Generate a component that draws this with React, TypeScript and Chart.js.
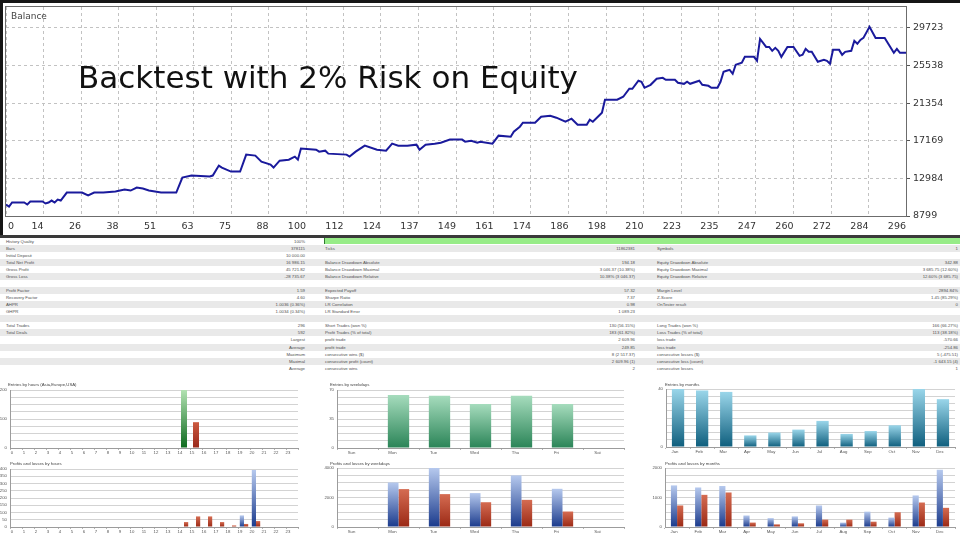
import React, { useEffect, useRef } from "react";
import { Chart, registerables } from "chart.js";

Chart.register(...registerables);

// ---------------- DATA ----------------
// Balance curve: trade number and balance at the points where the curve turns
const balanceTrade = [
  0, 1, 2, 6, 7, 8, 12, 13, 14, 15,
  16, 17, 18, 20, 25, 27, 29, 32, 36, 39,
  41, 43, 45, 47, 51, 56, 58, 61, 67, 68,
  70, 71, 74, 77, 79, 82, 84, 87, 88, 90,
  93, 95, 96, 97, 102, 103, 105, 106, 112, 113,
  115, 118, 122, 125, 127, 129, 132, 135, 136, 138,
  141, 143, 146, 150, 151, 153, 155, 156, 160, 162,
  166, 167, 169, 170, 174, 176, 179, 181, 184, 186,
  188, 191, 192, 193, 195, 196, 197, 201, 203, 205,
  206, 208, 209, 210, 212, 214, 216, 217, 220, 221,
  223, 224, 225, 228, 229, 231, 232, 234, 235, 236,
  237, 238, 239, 240, 242, 243, 246, 247, 248, 249,
  250, 251, 252, 253, 254, 255, 257, 259, 261, 262,
  263, 264, 265, 267, 269, 270, 271, 272, 274, 275,
  276, 278, 279, 280, 281, 282, 284, 286, 289, 292,
  293, 294, 296,
];
const balanceValue = [
  10080, 9850, 10300, 10300, 10080, 10410, 10410, 10190, 10300, 10520,
  10300, 10630, 10520, 11410, 11410, 11080, 11410, 11410, 11520, 11740,
  11630, 11960, 11850, 11630, 11410, 11410, 13080, 13300, 13190, 13300,
  14410, 14190, 13740, 13740, 15630, 15520, 14850, 14520, 14190, 14960,
  15070, 15410, 15070, 16300, 16180, 15960, 16070, 15740, 15630, 15410,
  15960, 16630, 16180, 16070, 16850, 16630, 16630, 16740, 16180, 16740,
  16850, 16960, 17300, 17300, 17070, 17180, 16960, 17070, 16850, 17740,
  17630, 18180, 18740, 19180, 19180, 19850, 19960, 19740, 19290, 19630,
  18960, 18960, 19520, 19290, 19960, 20290, 21740, 21740, 22070, 22960,
  22960, 23850, 23740, 23070, 23400, 24070, 24180, 23960, 23960, 23630,
  23510, 23740, 23510, 23850, 23400, 23290, 23070, 23070, 23740, 24850,
  24960, 25070, 24630, 25630, 25850, 26510, 26510, 26070, 28510, 28070,
  27620, 27620, 27180, 27510, 27180, 26510, 27620, 27620, 26620, 26740,
  27400, 27070, 27070, 25960, 26180, 26070, 25740, 27290, 27290, 26740,
  27070, 27180, 28290, 27960, 28400, 28620, 29850, 28620, 28620, 26960,
  27400, 26960, 26960,
];
const tradeTickLabels = [
  "0", "14", "26", "38", "51", "63", "75", "88", "100", "112", "124", "137", "149",
  "161", "174", "186", "198", "210", "223", "235", "247", "260", "272", "284", "296",
];
const tradeMax = 296;
const balanceTicks = [8799, 12984, 17169, 21354, 25538, 29723];
const balanceMin = 8799;
const balanceMax = 32060;

const hourLabels = [
  "0", "1", "2", "3", "4", "5", "6", "7", "8", "9", "10", "11",
  "12", "13", "14", "15", "16", "17", "18", "19", "20", "21", "22", "23",
];
const entriesHourGreen = [0, 0, 0, 0, 0, 0, 0, 0, 0, 0, 0, 0, 0, 0, 200, 0, 0, 0, 0, 0, 0, 0, 0, 0];
const entriesHourRed = [0, 0, 0, 0, 0, 0, 0, 0, 0, 0, 0, 0, 0, 0, 0, 89, 0, 0, 0, 0, 0, 0, 0, 0];
const profitByHour = [0, 0, 0, 0, 0, 0, 0, 0, 0, 0, 0, 0, 0, 0, 0, 0, 0, 0, 0, 80, 393, 0, 0, 0];
const lossByHour = [0, 0, 0, 0, 0, 0, 0, 0, 0, 0, 0, 0, 0, 0, 34, 73, 73, 34, 11, 21, 41, 0, 0, 0];

const weekdayLabels = ["Sun", "Mon", "Tue", "Wed", "Thu", "Fri", "Sat"];
const entriesByWeekday = [0, 64, 63, 53, 63, 53, 0];
const profitByWeekday = [0, 3020, 4000, 2300, 3500, 2590, 0];
const lossByWeekday = [0, 2570, 2230, 1680, 1840, 1050, 0];

const monthLabels = ["Jan", "Feb", "Mar", "Apr", "May", "Jun", "Jul", "Aug", "Sep", "Oct", "Nov", "Dec"];
const entriesByMonth = [40, 39, 38, 8, 10, 12, 18, 9, 11, 15, 40, 33];
const profitByMonth = [1410, 1340, 1390, 390, 300, 360, 730, 150, 520, 320, 1070, 1940];
const lossByMonth = [730, 1090, 1170, 150, 90, 125, 250, 250, 180, 500, 830, 650];

const statRows: string[][] = [
  ["History Quality", "100%", "", "", "", ""],
  ["Bars", "378115", "Ticks", "11862381", "Symbols", "1"],
  ["Initial Deposit", "10 000.00", "", "", "", ""],
  ["Total Net Profit", "16 986.15", "Balance Drawdown Absolute", "194.18", "Equity Drawdown Absolute", "342.88"],
  ["Gross Profit", "45 721.82", "Balance Drawdown Maximal", "3 046.37 (10.38%)", "Equity Drawdown Maximal", "3 685.75 (12.60%)"],
  ["Gross Loss", "-28 735.67", "Balance Drawdown Relative", "10.38% (3 046.37)", "Equity Drawdown Relative", "12.60% (3 685.75)"],
  ["", "", "", "", "", ""],
  ["Profit Factor", "1.59", "Expected Payoff", "57.32", "Margin Level", "2894.84%"],
  ["Recovery Factor", "4.60", "Sharpe Ratio", "7.37", "Z-Score", "1.45 (85.29%)"],
  ["AHPR", "1.0036 (0.36%)", "LR Correlation", "0.98", "OnTester result", "0"],
  ["GHPR", "1.0034 (0.34%)", "LR Standard Error", "1 089.23", "", ""],
  ["", "", "", "", "", ""],
  ["Total Trades", "296", "Short Trades (won %)", "130 (56.15%)", "Long Trades (won %)", "166 (66.27%)"],
  ["Total Deals", "592", "Profit Trades (% of total)", "183 (61.82%)", "Loss Trades (% of total)", "113 (38.18%)"],
  ["", "Largest", "profit trade", "2 609.96", "loss trade", "-570.66"],
  ["", "Average", "profit trade", "249.85", "loss trade", "-254.86"],
  ["", "Maximum", "consecutive wins ($)", "8 (2 517.37)", "consecutive losses ($)", "5 (-475.51)"],
  ["", "Maximal", "consecutive profit (count)", "2 609.96 (1)", "consecutive loss (count)", "-1 643.15 (4)"],
  ["", "Average", "consecutive wins", "2", "consecutive losses", "1"],
];

// ---------------- HELPERS ----------------
const DEJAVU = "'DejaVu Sans', sans-serif";
const SMALL = "'Liberation Sans', Arial, sans-serif";

function barGradient(top: string, bottom: string) {
  return (c: any) => {
    const chart = c.chart;
    const y = chart.scales && chart.scales.y;
    if (!chart.chartArea || !y || c.raw == null) return bottom;
    const y0 = y.getPixelForValue(c.raw);
    const y1 = y.getPixelForValue(0);
    if (!(y1 - y0 > 0.5)) return bottom;
    const g = chart.ctx.createLinearGradient(0, y0, 0, y1);
    g.addColorStop(0, top);
    g.addColorStop(1, bottom);
    return g;
  };
}

// plot frame + first x label drawn left-aligned at the left edge (as in the terminal)
const framePlugin = {
  id: "frame",
  beforeDatasetsDraw(chart: any) {
    const { ctx, chartArea: a } = chart;
    ctx.save();
    ctx.strokeStyle = "#6c6c6c";
    ctx.lineWidth = 1;
    ctx.strokeRect(a.left - 0.5, a.top - 0.5, a.right - a.left + 1, a.bottom - a.top + 1);
    ctx.fillStyle = "#333";
    ctx.font = "9.5px " + DEJAVU;
    ctx.textAlign = "left";
    ctx.textBaseline = "middle";
    ctx.fillText(tradeTickLabels[0], a.left + 2, a.bottom + 10.7);
    ctx.restore();
  },
};

// ---------------- BALANCE CHART ----------------
function BalanceChart() {
  const ref = useRef<HTMLCanvasElement>(null);
  useEffect(() => {
    const chart = new Chart(ref.current as HTMLCanvasElement, {
      type: "line",
      data: {
        datasets: [
          {
            data: balanceTrade.map((x, i) => ({ x, y: balanceValue[i] })),
            borderColor: "#1a1a9c",
            borderWidth: 2,
            pointRadius: 0,
            tension: 0,
            fill: false,
          },
        ],
      },
      options: {
        responsive: false,
        animation: false,
        layout: { padding: { left: 6, top: 7, right: 0, bottom: 0 } },
        plugins: { legend: { display: false }, tooltip: { enabled: false } },
        scales: {
          x: {
            type: "linear",
            min: 0,
            max: tradeMax,
            bounds: "data",
            afterBuildTicks: (s: any) => {
              s.ticks = tradeTickLabels.map((_, i) => ({ value: (i * tradeMax) / (tradeTickLabels.length - 1) }));
            },
            afterFit: (s: any) => {
              s.height = 19;
              s.paddingLeft = 0;
              s.paddingRight = 0;
            },
            grid: { color: "#c2c2c2", drawTicks: false },
            border: { display: false, dash: [3, 3] },
            ticks: {
              callback: (_v: any, i: number) => (i === 0 ? "" : tradeTickLabels[i]),
              font: { family: DEJAVU, size: 9.5 },
              color: "#333",
              padding: 5,
              align: "end",
              autoSkip: false,
              maxRotation: 0,
            },
          },
          y: {
            type: "linear",
            position: "right",
            min: balanceMin,
            max: balanceMax,
            bounds: "data",
            afterBuildTicks: (s: any) => {
              s.ticks = balanceTicks.map((v) => ({ value: v }));
            },
            afterFit: (s: any) => {
              s.width = 54;
              s.paddingTop = 0;
              s.paddingBottom = 0;
            },
            grid: { color: "#c2c2c2", drawTicks: true, tickLength: 4, tickColor: "#555" },
            border: { display: false, dash: [3, 3] },
            ticks: {
              callback: (v: any) => String(v),
              font: { family: DEJAVU, size: 9.5 },
              color: "#333",
              padding: 3,
              autoSkip: false,
            },
          },
        },
      },
      plugins: [framePlugin],
    } as any);
    return () => chart.destroy();
  }, []);
  return (
    <>
      <canvas ref={ref} width={960} height={235} style={{ position: "absolute", left: 0, top: 0 }} />
      <div style={{ position: "absolute", left: 0, top: 0, width: 960, height: 3, background: "#161616" }} />
      <div style={{ position: "absolute", left: 0, top: 0, width: 3, height: 235, background: "#161616" }} />
      <div
        style={{
          position: "absolute",
          left: 11,
          top: 12,
          fontFamily: DEJAVU,
          fontSize: 9,
          lineHeight: "9px",
          color: "#444",
          whiteSpace: "nowrap",
        }}
      >
        Balance
      </div>
      <div
        style={{
          position: "absolute",
          left: 78,
          top: 62,
          fontFamily: DEJAVU,
          fontSize: 31,
          lineHeight: "31px",
          color: "#111",
          whiteSpace: "nowrap",
        }}
      >
        Backtest with 2% Risk on Equity
      </div>
    </>
  );
}

// ---------------- STATS TABLE ----------------
function StatsTable() {
  const rowTop = 237.5;
  const rowH = 7.07;
  const cell: React.CSSProperties = {
    position: "absolute",
    top: 0,
    height: rowH,
    lineHeight: rowH + "px",
    whiteSpace: "nowrap",
  };
  return (
    <>
      <div style={{ position: "absolute", left: 0, top: 235, width: 960, height: 2.5, background: "#3a3a3a" }} />
      {statRows.map((r, i) => (
        <div
          key={i}
          style={{
            position: "absolute",
            left: 0,
            top: rowTop + i * rowH,
            width: 960,
            height: rowH,
            background: i % 2 === 1 ? "#e9e9e9" : "#ffffff",
            fontFamily: SMALL,
            fontSize: 4.3,
            color: "#505050",
          }}
        >
          {i === 0 && (
            <div style={{ position: "absolute", left: 324, top: 0.5, width: 636, height: rowH - 1.5, background: "#97ec88", borderLeft: "1px solid #2f7a2f" }} />
          )}
          <div style={{ ...cell, left: 6 }}>{r[0]}</div>
          <div style={{ ...cell, left: 0, width: 305, textAlign: "right" }}>{r[1]}</div>
          <div style={{ ...cell, left: 325 }}>{r[2]}</div>
          <div style={{ ...cell, left: 320, width: 315, textAlign: "right" }}>{r[3]}</div>
          <div style={{ ...cell, left: 657 }}>{r[4]}</div>
          <div style={{ ...cell, left: 640, width: 318, textAlign: "right" }}>{r[5]}</div>
        </div>
      ))}
    </>
  );
}

// ---------------- SMALL BAR PANELS ----------------
type Series = { data: number[]; top: string; bottom: string };
type PanelProps = {
  left: number;
  top: number;
  width: number;
  height: number;
  plot: [number, number, number, number];
  title: string;
  titleX: number;
  titleY: number;
  labels: string[];
  series: Series[];
  grouped: boolean;
  barPct: number;
  catPct: number;
  yMax: number;
  yShown: number[];
  labelOffset: number;
};

function BarPanel(p: PanelProps) {
  const ref = useRef<HTMLCanvasElement>(null);
  useEffect(() => {
    const [pl, pt, pr, pb] = p.plot;
    const chart = new Chart(ref.current as HTMLCanvasElement, {
      type: "bar",
      data: {
        labels: p.labels,
        datasets: p.series.map((s) => ({
          data: s.data,
          backgroundColor: barGradient(s.top, s.bottom),
          borderWidth: 0,
          grouped: p.grouped,
          barPercentage: p.barPct,
          categoryPercentage: p.catPct,
        })),
      },
      options: {
        responsive: false,
        animation: false,
        layout: { padding: { left: 0, top: pt, right: p.width - pr, bottom: 0 } },
        plugins: { legend: { display: false }, tooltip: { enabled: false } },
        scales: {
          x: {
            afterFit: (s: any) => {
              s.height = p.height - pb;
              s.paddingLeft = 0;
              s.paddingRight = 0;
            },
            grid: { offset: true, drawOnChartArea: false, drawTicks: true, tickLength: 2, color: "#b5b5b5" },
            border: { display: true, color: "#9c9c9c" },
            ticks: {
              font: { family: SMALL, size: 4.3 },
              color: "#555",
              padding: 0,
              labelOffset: p.labelOffset,
              autoSkip: false,
              maxRotation: 0,
            },
          },
          y: {
            min: 0,
            max: p.yMax,
            bounds: "data",
            afterBuildTicks: (s: any) => {
              s.ticks = [0, 1, 2, 3, 4, 5, 6, 7, 8].map((k) => ({ value: (p.yMax * k) / 8 }));
            },
            afterFit: (s: any) => {
              s.width = pl;
              s.paddingTop = 0;
              s.paddingBottom = 0;
            },
            grid: { color: "#d3d3d3", drawTicks: false },
            border: { display: true, color: "#9c9c9c" },
            ticks: {
              font: { family: SMALL, size: 4.3 },
              color: "#555",
              padding: 3,
              autoSkip: false,
              callback: (v: any) => (p.yShown.some((s) => Math.abs(s - v) < 1e-6) ? String(v) : ""),
            },
          },
        },
      },
    } as any);
    return () => chart.destroy();
  }, []);
  return (
    <>
      <canvas ref={ref} width={p.width} height={p.height} style={{ position: "absolute", left: p.left, top: p.top }} />
      <div
        style={{
          position: "absolute",
          left: p.left + p.titleX,
          top: p.top + p.titleY - 3,
          fontFamily: SMALL,
          fontSize: 4.3,
          lineHeight: "6px",
          color: "#444",
          whiteSpace: "nowrap",
        }}
      >
        {p.title}
      </div>
    </>
  );
}

const GREEN_H = { top: "#b2e2b2", bottom: "#0e6a1e" };
const RED_H = { top: "#cc5a40", bottom: "#98281a" };
const GREEN_W = { top: "#a6dcbd", bottom: "#2a8457" };
const TEAL = { top: "#9ad6ea", bottom: "#0e5e7d" };
const BLUE = { top: "#b6c9ee", bottom: "#1a3a8c" };
const RED = { top: "#d56c52", bottom: "#9a2814" };

export default function App() {
  useEffect(() => {
    document.body.style.margin = "0";
  }, []);
  return (
    <div style={{ position: "relative", width: 960, height: 540, overflow: "hidden", background: "#fff" }}>
      <style>{`html,body{margin:0;padding:0;background:#fff}`}</style>
      <BalanceChart />
      <StatsTable />
      <BarPanel
        left={0} top={378} width={320} height={80} plot={[10, 12, 298, 70]}
        title="Entries by hours (Asia,Europe,USA)" titleX={8} titleY={6.5}
        labels={hourLabels}
        series={[{ data: entriesHourGreen, ...GREEN_H }, { data: entriesHourRed, ...RED_H }]}
        grouped={false} barPct={0.5} catPct={1} yMax={200} yShown={[0, 100, 200]} labelOffset={-4}
      />
      <BarPanel
        left={320} top={378} width={320} height={80} plot={[17, 12, 304, 70]}
        title="Entries by weekdays" titleX={10} titleY={6.7}
        labels={weekdayLabels}
        series={[{ data: entriesByWeekday, ...GREEN_W }]}
        grouped={true} barPct={0.52} catPct={1} yMax={70} yShown={[0, 35, 70]} labelOffset={-6}
      />
      <BarPanel
        left={640} top={378} width={320} height={80} plot={[26, 11, 315, 69]}
        title="Entries by months" titleX={25} titleY={7}
        labels={monthLabels}
        series={[{ data: entriesByMonth, ...TEAL }]}
        grouped={true} barPct={0.51} catPct={1} yMax={40} yShown={[0, 40]} labelOffset={-3}
      />
      <BarPanel
        left={0} top={458} width={320} height={82} plot={[10, 11, 298, 69]}
        title="Profits and losses by hours" titleX={10} titleY={5.7}
        labels={hourLabels}
        series={[{ data: profitByHour, ...BLUE }, { data: lossByHour, ...RED }]}
        grouped={true} barPct={1} catPct={0.7} yMax={400} yShown={[0, 50, 100, 150, 200, 250, 300, 350, 400]} labelOffset={-4}
      />
      <BarPanel
        left={320} top={458} width={320} height={82} plot={[17, 10, 304, 69]}
        title="Profits and losses by weekdays" titleX={10} titleY={5.7}
        labels={weekdayLabels}
        series={[{ data: profitByWeekday, ...BLUE }, { data: lossByWeekday, ...RED }]}
        grouped={true} barPct={1} catPct={0.52} yMax={4000} yShown={[0, 2000, 4000]} labelOffset={-6}
      />
      <BarPanel
        left={640} top={458} width={320} height={82} plot={[25, 10, 315, 69]}
        title="Profits and losses by months" titleX={25} titleY={5.7}
        labels={monthLabels}
        series={[{ data: profitByMonth, ...BLUE }, { data: lossByMonth, ...RED }]}
        grouped={true} barPct={1} catPct={0.51} yMax={2000} yShown={[0, 1000, 2000]} labelOffset={-3}
      />
    </div>
  );
}
